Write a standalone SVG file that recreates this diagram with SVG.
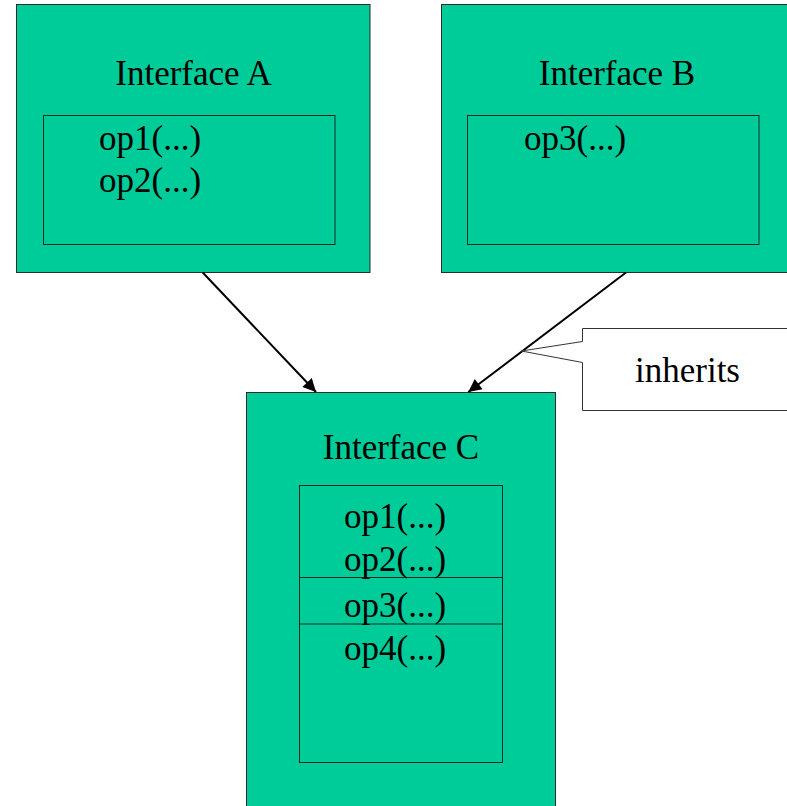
<svg xmlns="http://www.w3.org/2000/svg" width="787" height="806" viewBox="0 0 787 806">
  <style>
    .box { fill: #00CC99; stroke: #2b2b2b; stroke-width: 1; }
    .inner { fill: #00CC99; stroke: #0f2a22; stroke-width: 1; }
    .t { font-family: "Liberation Serif", "DejaVu Serif", serif; font-size: 35px; fill: #000; }
    .mid { text-anchor: middle; }
    .edge { stroke: #000; stroke-width: 2; fill: none; marker-end: url(#arrow); }
    .note { fill: #fff; stroke: #333; stroke-width: 1; }
  </style>
  <defs>
    <marker id="arrow" viewBox="0 0 10 10" refX="10" refY="5" markerUnits="userSpaceOnUse" markerWidth="16" markerHeight="13" orient="auto">
      <path d="M0,0 L10,5 L0,10 Z" fill="#000"/>
    </marker>
  </defs>
  <rect width="787" height="806" fill="#fff"/>

  <g id="interface-a">
    <rect class="box" x="16.5" y="4.5" width="353.5" height="268"/>
    <text class="t mid" x="193.5" y="85">Interface A</text>
    <rect class="inner" x="43.5" y="115.5" width="291.5" height="129"/>
    <text class="t" x="99" y="150">op1(...)</text>
    <text class="t" x="99" y="192">op2(...)</text>
  </g>

  <g id="interface-b">
    <rect class="box" x="441.5" y="4.5" width="353.5" height="268"/>
    <text class="t mid" x="617" y="85">Interface B</text>
    <rect class="inner" x="467.5" y="115.5" width="291.5" height="129"/>
    <text class="t" x="524" y="150">op3(...)</text>
  </g>

  <g id="interface-c">
    <rect class="box" x="246.5" y="392.5" width="309" height="430"/>
    <text class="t mid" x="401" y="459">Interface C</text>
    <rect class="inner" x="299.5" y="485.5" width="203" height="277"/>
    <line class="inner" x1="299.5" y1="577.5" x2="502.5" y2="577.5"/>
    <line class="inner" x1="299.5" y1="624" x2="502.5" y2="624"/>
    <text class="t" x="344" y="528">op1(...)</text>
    <text class="t" x="344" y="571">op2(...)</text>
    <text class="t" x="344" y="617">op3(...)</text>
    <text class="t" x="344" y="660">op4(...)</text>
  </g>

  <g id="connectors">
    <line class="edge" x1="202.7" y1="272.5" x2="316" y2="392"/>
    <line class="edge" x1="626" y1="272.5" x2="468.3" y2="392"/>
  </g>

  <g id="note-inherits">
    <polygon class="note" points="582.5,328.5 800,328.5 800,410.5 582.5,410.5 582.5,362.5 521.5,351 582.5,341.5"/>
    <text class="t" x="635" y="382">inherits</text>
  </g>
</svg>
